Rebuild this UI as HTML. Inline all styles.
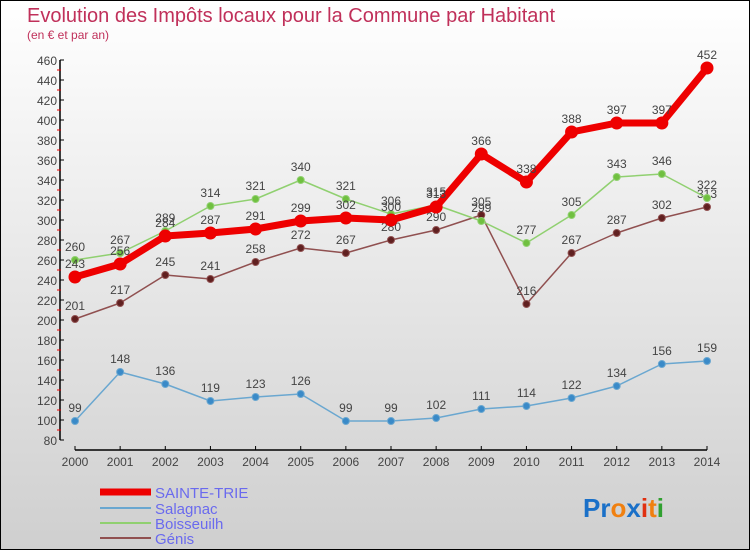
<!DOCTYPE html>
<html><head><meta charset="utf-8"><style>
body{margin:0}
#c{width:748px;height:548px;border:1px solid #000;background:linear-gradient(#fff,#cfcfcf);position:relative;font-family:"Liberation Sans","DejaVu Sans",sans-serif;overflow:hidden}
</style></head><body>
<div id="c">
<svg width="748" height="548" viewBox="1 1 748 548" id="svg">
<text x="27" y="22" font-size="20" fill="#c0305a">Evolution des Impôts locaux pour la Commune par Habitant</text>
<text x="27" y="39" font-size="12" fill="#c0305a">(en € et par an)</text>
<g id="axes"></g><g id="series"></g>
<g>
<line x1="100" y1="492" x2="151" y2="492" stroke="#e00" stroke-width="7"/><text x="155" y="498" font-size="15" fill="#6a6aee">SAINTE-TRIE</text>
<line x1="100" y1="508" x2="151" y2="508" stroke="#6aa7d0" stroke-width="2"/><text x="155" y="514" font-size="15" fill="#6a6aee">Salagnac</text>
<line x1="100" y1="523" x2="151" y2="523" stroke="#90d070" stroke-width="2"/><text x="155" y="529" font-size="15" fill="#6a6aee">Boisseuilh</text>
<line x1="100" y1="538" x2="151" y2="538" stroke="#905050" stroke-width="2"/><text x="155" y="544" font-size="15" fill="#6a6aee">Génis</text>
</g>
<g font-size="26" font-weight="bold">
<text x="583" y="517"><tspan fill="#1a70c8">Pr</tspan><tspan fill="#f08010">o</tspan><tspan fill="#1a70c8">x</tspan><tspan fill="#e03010">i</tspan><tspan fill="#f08010">t</tspan><tspan fill="#30a030">i</tspan></text>
</g>
</svg>
</div>
<script>
const years=[2000,2001,2002,2003,2004,2005,2006,2007,2008,2009,2010,2011,2012,2013,2014];
const sainteTrie=[243,256,284,287,291,299,302,300,313,366,338,388,397,397,452];
const salagnac=[99,148,136,119,123,126,99,99,102,111,114,122,134,156,159];
const boisseuilh=[260,267,289,314,321,340,321,306,315,299,277,305,343,346,322];
const genis=[201,217,245,241,258,272,267,280,290,305,216,267,287,302,313];
const yTicks=[80,100,120,140,160,180,200,220,240,260,280,300,320,340,360,380,400,420,440,460];
const NS="http://www.w3.org/2000/svg";
const xs=i=>75+i*(707-75)/(years.length-1);
const ys=v=>60+(460-v);
function mk(t,a,p){const e=document.createElementNS(NS,t);for(const k in a)e.setAttribute(k,a[k]);p.appendChild(e);return e;}
const ax=document.getElementById('axes');
let l=mk('line',{x1:60,y1:60,x2:60,y2:440,stroke:'#000','stroke-width':1.5},ax);


l=mk('line',{x1:75,y1:450,x2:707,y2:450,stroke:'#000','stroke-width':1.5},ax);


yTicks.forEach((v,i)=>{
  mk('line',{x1:60,y1:ys(v),x2:64,y2:ys(v),stroke:'#000'},ax);
  if(i<yTicks.length-1)mk('line',{x1:57,y1:ys(v+10),x2:61,y2:ys(v+10),stroke:'#e00'},ax);
  const t=mk('text',{x:57,y:ys(v)+5,'font-size':12,fill:'#444','text-anchor':'end'},ax);
  
  
  t.textContent=v;
});
years.forEach((y,i)=>{
  mk('line',{x1:xs(i),y1:446,x2:xs(i),y2:450,stroke:'#000'},ax);
  const t=mk('text',{x:xs(i),y:466,'font-size':12,fill:'#444','text-anchor':'middle'},ax);
  
  
  t.textContent=y;
});
const sg=document.getElementById('series');
function series(data,name,color,w,r,dot){
  const g=mk('g',{},sg);
  
  
  const p=mk('polyline',{points:data.map((v,i)=>xs(i)+','+ys(v)).join(' '),fill:'none',stroke:color,'stroke-width':w,'stroke-linejoin':'round'},g);
  
  
  data.forEach((v,i)=>{
    const c=mk('circle',{cx:xs(i),cy:ys(v),r:r,fill:dot,stroke:color,'stroke-width':1},g);
    
    
    const t=mk('text',{x:xs(i),y:ys(v)-9,'font-size':12,fill:'#444','text-anchor':'middle'},g);
    
    
    t.textContent=v;
  });
}
series(salagnac,'salagnac','#6aa7d0',1.5,3.5,'#3a8ac8');
series(genis,'genis','#905050',1.5,3.5,'#602020');
series(boisseuilh,'boisseuilh','#90d070',1.5,3.5,'#70c040');
series(sainteTrie,'sainte-trie','#e00',7,6,'#e00');
</script>
</body></html>
